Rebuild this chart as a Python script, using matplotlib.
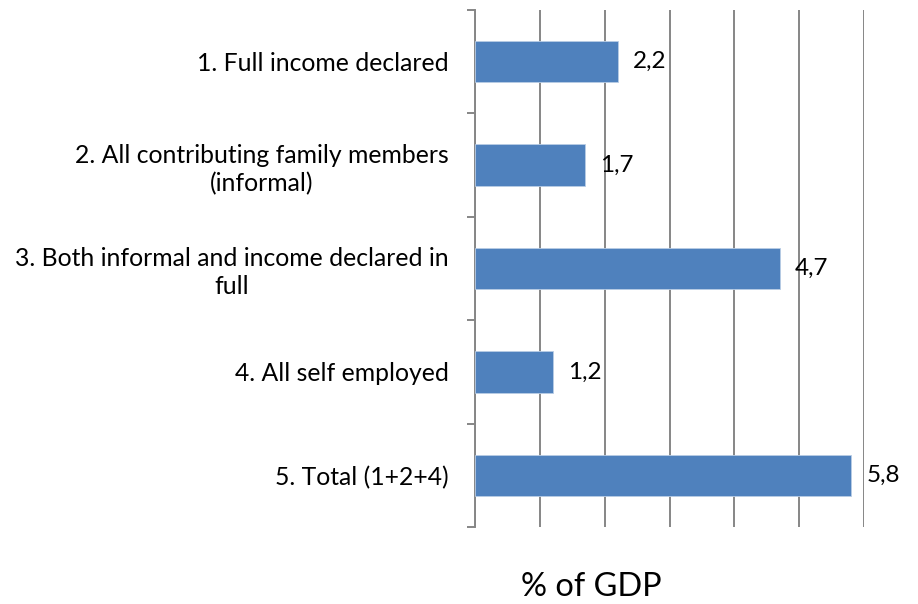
import matplotlib
matplotlib.use("Agg")
import matplotlib.pyplot as plt
import numpy as np

# Data (top to bottom)
CATEGORIES = [
    "1. Full income declared",
    "2. All contributing family members\n(informal)",
    "3. Both informal and income declared in\nfull",
    "4. All self employed",
    "5. Total (1+2+4)",
]
VALUES = [2.2, 1.7, 4.7, 1.2, 5.8]
VALUE_LABELS = ["2,2", "1,7", "4,7", "1,2", "5,8"]
X_LABEL = "% of GDP"

BAR_COLOR = "#4F81BD"
GRID_COLOR = "#868686"
FONT = ["Lato", "DejaVu Sans"]

plt.rcParams["font.family"] = FONT

fig = plt.figure(figsize=(9.18, 6.04), dpi=100)
ax = fig.add_axes([475 / 918, 1 - 527 / 604, (864 - 475) / 918, (527 - 10) / 604])

y = np.arange(len(CATEGORIES))
bars = ax.barh(y, VALUES, height=0.4, color=BAR_COLOR, edgecolor="#B9CDE5", linewidth=0.6, zorder=3)

for bar, lab in zip(bars, VALUE_LABELS):
    ax.annotate(lab, (bar.get_width(), bar.get_y() + bar.get_height() / 2),
                xytext=(11, 0), textcoords="offset points",
                ha="left", va="center", fontsize=17.5, color="black")

ax.set_xlim(0, 6)
ax.set_ylim(len(CATEGORIES) - 0.5, -0.5)

# vertical gridlines, no x tick labels
ax.set_xticks(np.arange(0, 7, 1))
ax.xaxis.grid(True, color=GRID_COLOR, linewidth=1.4, zorder=0)
ax.tick_params(axis="x", length=0, labelbottom=False)

# category labels at centers, tick marks at boundaries
ax.set_yticks(y)
ax.set_yticklabels(CATEGORIES, fontsize=17.8, multialignment="center", linespacing=1.25)
ax.tick_params(axis="y", which="major", length=0, pad=19)
ax.set_yticks(np.arange(-0.5, len(CATEGORIES)), minor=True)
ax.tick_params(axis="y", which="minor", length=6, width=1.4, color=GRID_COLOR)

for side in ["top", "right", "bottom"]:
    ax.spines[side].set_visible(False)
ax.spines["left"].set_color(GRID_COLOR)
ax.spines["left"].set_linewidth(1.4)

# axis title sits low and left of the plot centre, as in the original
fig.text(591 / 918, 1 - 596 / 604, X_LABEL, ha="center", va="baseline", fontsize=23.4)

fig.savefig("out.png", dpi=100)
